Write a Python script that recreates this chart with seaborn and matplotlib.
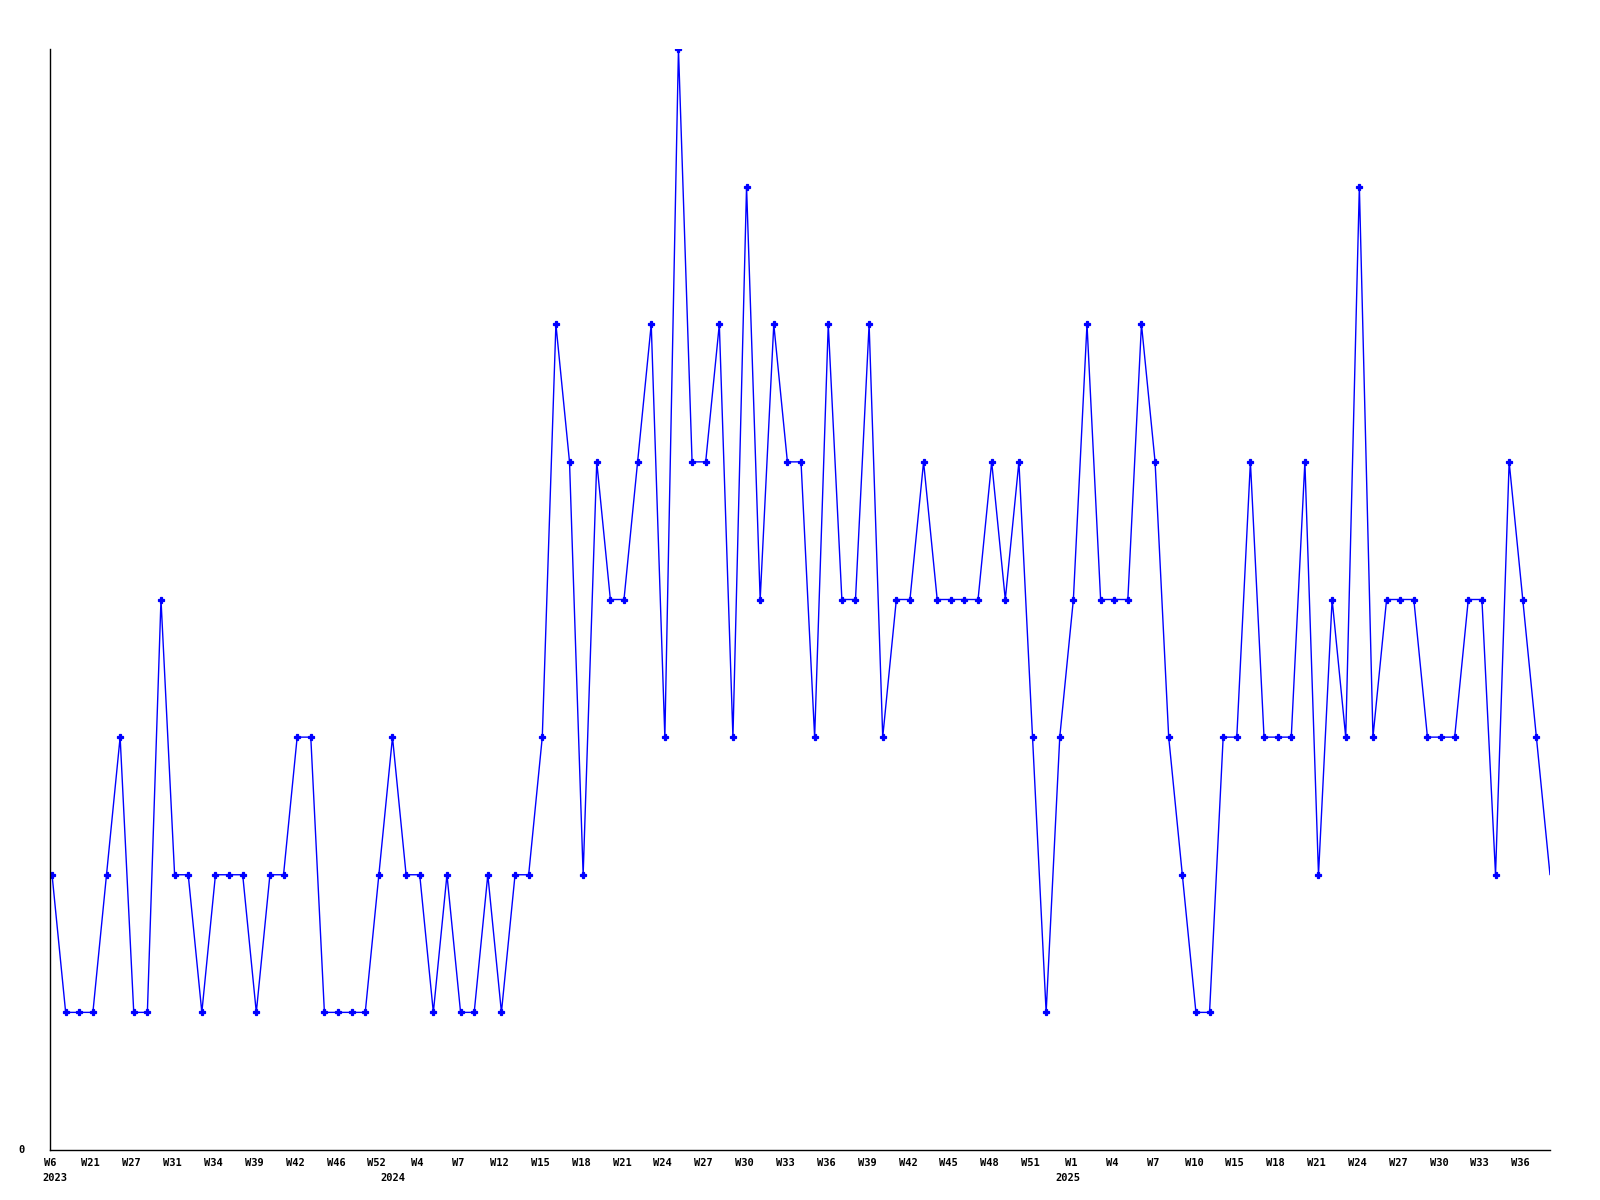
import numpy as np
import pandas as pd
import seaborn as sns
import matplotlib.pyplot as plt

# weekly counts (one point per row)
counts = [2, 1, 1, 1, 2, 3, 1, 1, 4, 2,
          2, 1, 2, 2, 2, 1, 2, 2, 3, 3,
          1, 1, 1, 1, 2, 3, 2, 2, 1, 2,
          1, 1, 2, 1, 2, 2, 3, 6, 5, 2,
          5, 4, 4, 5, 6, 3, 8, 5, 5, 6,
          3, 7, 4, 6, 5, 5, 3, 6, 4, 4,
          6, 3, 4, 4, 5, 4, 4, 4, 4, 5,
          4, 5, 3, 1, 3, 4, 6, 4, 4, 4,
          6, 5, 3, 2, 1, 1, 3, 3, 5, 3,
          3, 3, 5, 2, 4, 3, 7, 3, 4, 4,
          4, 3, 3, 3, 4, 4, 2, 5, 4, 3,
          2]

# labelled weeks (every third point)
week_labels = ['W6', 'W21', 'W27', 'W31', 'W34', 'W39', 'W42', 'W46', 'W52',
               'W4', 'W7', 'W12', 'W15', 'W18', 'W21', 'W24', 'W27', 'W30',
               'W33', 'W36', 'W39', 'W42', 'W45', 'W48', 'W51',
               'W1', 'W4', 'W7', 'W10', 'W15', 'W18', 'W21', 'W24', 'W27',
               'W30', 'W33', 'W36']
years = ['2023', '2024', '2025']
year_pos = [0.2, 25, 74.6]

df = pd.DataFrame({'idx': np.arange(len(counts)), 'count': counts})

sns.set_style('white')
plt.rcParams['font.family'] = ['DejaVu Sans Mono', 'DejaVu Sans']

fig = plt.figure(figsize=(16, 12), dpi=100)
ax = fig.add_axes([50/1600, 1 - 1150/1200, 1500/1600, 1101/1200])

sns.lineplot(data=df, x='idx', y='count', ax=ax, color='#0000ff', linewidth=1.0,
             marker='P', markersize=4, markeredgewidth=0.9,
             markeredgecolor='#0000ff',
             markevery=list(range(len(counts) - 1)))

ax.set_xlim(0, len(counts) - 1)
ax.set_ylim(0, 8)
ax.set_xlabel('')
ax.set_ylabel('')

ax.set_xticks(np.arange(0, 3 * len(week_labels), 3) - 0.15)
ax.set_xticklabels(week_labels, fontsize=7.5, fontweight='bold', color='black')
ax.set_yticks([0])
ax.set_yticklabels(['0'], fontsize=7.5, fontweight='bold', color='black')
ax.tick_params(axis='x', length=0, pad=6)
ax.tick_params(axis='y', length=0, pad=18)
for lab in ax.get_yticklabels():
    lab.set_verticalalignment('center')

trans = ax.get_xaxis_transform()
for yr, p in zip(years, year_pos):
    ax.text(p, -0.021, yr, transform=trans, ha='center', va='top',
            fontsize=7.5, fontweight='bold', color='black')

for s in ['top', 'right']:
    ax.spines[s].set_visible(False)
for s in ['left', 'bottom']:
    ax.spines[s].set_color('black')
    ax.spines[s].set_linewidth(1.0)

fig.savefig('out.png', dpi=100, facecolor='white')
